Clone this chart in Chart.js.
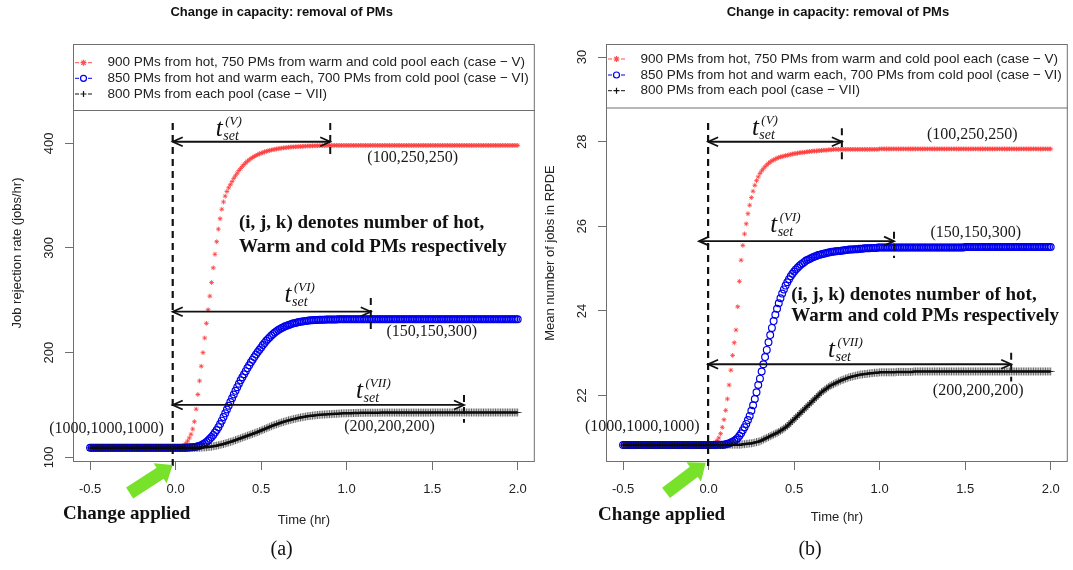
<!DOCTYPE html>
<html>
<head>
<meta charset="utf-8">
<script src="https://cdn.jsdelivr.net/npm/chart.js@4.4.1/dist/chart.umd.min.js"></script>
<style>
  html, body { margin: 0; padding: 0; background: #fff; }
  #wrap { position: relative; width: 1073px; height: 570px; overflow: hidden; }
  canvas { position: absolute; top: 0; }
  #chartA { left: 0; }
  #chartB { left: 540px; }
</style>
</head>
<body>
<div id="wrap">
  <canvas id="chartA" width="540" height="570"></canvas>
  <canvas id="chartB" width="533" height="570"></canvas>
</div>
<script>
// time grid (hr)
const times = [
  -0.5,-0.49,-0.48,-0.47,-0.46,-0.45,-0.44,-0.43,-0.42,-0.41,
  -0.4,-0.39,-0.38,-0.37,-0.36,-0.35,-0.34,-0.33,-0.32,-0.31,
  -0.3,-0.29,-0.28,-0.27,-0.26,-0.25,-0.24,-0.23,-0.22,-0.21,
  -0.2,-0.19,-0.18,-0.17,-0.16,-0.15,-0.14,-0.13,-0.12,-0.11,
  -0.1,-0.09,-0.08,-0.07,-0.06,-0.05,-0.04,-0.03,-0.02,-0.01,
  0,0.01,0.02,0.03,0.04,0.05,0.06,0.07,0.08,0.09,
  0.1,0.11,0.12,0.13,0.14,0.15,0.16,0.17,0.18,0.19,
  0.2,0.21,0.22,0.23,0.24,0.25,0.26,0.27,0.28,0.29,
  0.3,0.31,0.32,0.33,0.34,0.35,0.36,0.37,0.38,0.39,
  0.4,0.41,0.42,0.43,0.44,0.45,0.46,0.47,0.48,0.49,
  0.5,0.51,0.52,0.53,0.54,0.55,0.56,0.57,0.58,0.59,
  0.6,0.61,0.62,0.63,0.64,0.65,0.66,0.67,0.68,0.69,
  0.7,0.71,0.72,0.73,0.74,0.75,0.76,0.77,0.78,0.79,
  0.8,0.81,0.82,0.83,0.84,0.85,0.86,0.87,0.88,0.89,
  0.9,0.91,0.92,0.93,0.94,0.95,0.96,0.97,0.98,0.99,
  1,1.01,1.02,1.03,1.04,1.05,1.06,1.07,1.08,1.09,
  1.1,1.11,1.12,1.13,1.14,1.15,1.16,1.17,1.18,1.19,
  1.2,1.21,1.22,1.23,1.24,1.25,1.26,1.27,1.28,1.29,
  1.3,1.31,1.32,1.33,1.34,1.35,1.36,1.37,1.38,1.39,
  1.4,1.41,1.42,1.43,1.44,1.45,1.46,1.47,1.48,1.49,
  1.5,1.51,1.52,1.53,1.54,1.55,1.56,1.57,1.58,1.59,
  1.6,1.61,1.62,1.63,1.64,1.65,1.66,1.67,1.68,1.69,
  1.7,1.71,1.72,1.73,1.74,1.75,1.76,1.77,1.78,1.79,
  1.8,1.81,1.82,1.83,1.84,1.85,1.86,1.87,1.88,1.89,
  1.9,1.91,1.92,1.93,1.94,1.95,1.96,1.97,1.98,1.99,
  2
];

const caseLabels = [
  '900 PMs from hot, 750 PMs from warm and cold pool each (case \u2212 V)',
  '850 PMs from hot and warm each, 700 PMs from cold pool (case \u2212 VI)',
  '800 PMs from each pool (case \u2212 VII)'
];

// (a) job rejection rate (jobs/hr)
const rejectV = [
  109,109,109,109,109,109,109,109,109,109,
  109,109,109,109,109,109,109,109,109,109,
  109,109,109,109,109,109,109,109,109,109,
  109,109,109,109,109,109,109,109,109,109,
  109,109,109,109,109,109,109,109,109,109,
  109,109.2,109.5,110,110.7,111.7,113.2,115.5,118.5,122,
  127,134,146,160,173,187,200,214,228,241,
  254,267,281,294,306,318,328,337,344,349.5,
  354,357.5,360.5,363.5,366.5,369,371.5,374,376,378,
  379.8,381.4,382.9,384.2,385.4,386.5,387.5,388.4,389.2,390,
  390.6,391.2,391.8,392.3,392.8,393.2,393.6,394,394.3,394.6,
  394.9,395.2,395.4,395.6,395.8,396,396.2,396.4,396.5,396.6,
  396.7,396.8,396.9,397,397.1,397.2,397.3,397.4,397.5,397.5,
  397.6,397.6,397.7,397.7,397.8,397.8,397.9,397.9,398,398,
  398,398,398,398,398,398,398,398,398,398,
  398,398,398,398,398,398,398,398,398,398,
  398,398,398,398,398,398,398,398,398,398,
  398,398,398,398,398,398,398,398,398,398,
  398,398,398,398,398,398,398,398,398,398,
  398,398,398,398,398,398,398,398,398,398,
  398,398,398,398,398,398,398,398,398,398,
  398,398,398,398,398,398,398,398,398,398,
  398,398,398,398,398,398,398,398,398,398,
  398,398,398,398,398,398,398,398,398,398,
  398,398,398,398,398,398,398,398,398,398,
  398
];
const rejectVI = [
  109,109,109,109,109,109,109,109,109,109,
  109,109,109,109,109,109,109,109,109,109,
  109,109,109,109,109,109,109,109,109,109,
  109,109,109,109,109,109,109,109,109,109,
  109,109,109,109,109,109,109,109,109,109,
  109,109,109,109.1,109.1,109.2,109.2,109.3,109.4,109.5,
  109.6,109.8,110.1,110.5,111,111.6,112.4,113.4,114.6,116,
  117.6,119.4,121.4,123.6,126,128.8,131.8,135,138.4,142,
  145.6,149.2,152.8,156.4,160,163.5,167,170.3,173.5,176.5,
  179.4,182.3,185.2,188,190.7,193.3,195.8,198.2,200.5,202.8,
  205,207.2,209.3,211.3,213.1,214.8,216.4,217.9,219.3,220.5,
  221.6,222.6,223.5,224.3,225.1,225.8,226.4,227,227.5,228,
  228.4,228.8,229.2,229.5,229.8,230.1,230.3,230.5,230.7,230.9,
  231,231.1,231.2,231.3,231.4,231.4,231.5,231.5,231.6,231.6,
  231.7,231.7,231.7,231.7,231.7,231.8,231.8,231.8,231.8,231.8,
  231.8,231.8,231.8,231.8,231.8,231.8,231.8,231.8,231.8,231.8,
  231.8,231.8,231.8,231.8,231.8,231.8,231.8,231.8,231.8,231.8,
  231.8,231.8,231.8,231.8,231.8,231.8,231.8,231.8,231.8,231.8,
  231.8,231.8,231.8,231.8,231.8,231.8,231.8,231.8,231.8,231.8,
  231.8,231.8,231.8,231.8,231.8,231.8,231.8,231.8,231.8,231.8,
  231.8,231.8,231.8,231.8,231.8,231.8,231.8,231.8,231.8,231.8,
  231.8,231.8,231.8,231.8,231.8,231.8,231.8,231.8,231.8,231.8,
  231.8,231.8,231.8,231.8,231.8,231.8,231.8,231.8,231.8,231.8,
  231.8,231.8,231.8,231.8,231.8,231.8,231.8,231.8,231.8,231.8,
  231.8,231.8,231.8,231.8,231.8,231.8,231.8,231.8,231.8,231.8,
  231.8
];
const rejectVII = [
  109,109,109,109,109,109,109,109,109,109,
  109,109,109,109,109,109,109,109,109,109,
  109,109,109,109,109,109,109,109,109,109,
  109,109,109,109,109,109,109,109,109,109,
  109,109,109,109,109,109,109,109,109,109,
  109,109,109,109,109,109,109,109,109,109,
  109,109,109.1,109.1,109.2,109.3,109.4,109.5,109.6,109.8,
  110,110.2,110.5,110.8,111.1,111.5,111.9,112.3,112.7,113.2,
  113.7,114.2,114.7,115.2,115.8,116.4,117,117.6,118.2,118.8,
  119.4,120,120.6,121.2,121.8,122.4,123,123.6,124.2,124.9,
  125.6,126.3,127,127.7,128.4,129.1,129.8,130.4,131,131.6,
  132.2,132.8,133.3,133.8,134.3,134.8,135.3,135.7,136.1,136.5,
  136.9,137.3,137.7,138,138.3,138.6,138.9,139.2,139.4,139.6,
  139.8,140,140.2,140.4,140.6,140.7,140.8,140.9,141,141.1,
  141.2,141.3,141.4,141.5,141.6,141.7,141.8,141.9,142,142,
  142.1,142.1,142.2,142.2,142.3,142.3,142.4,142.4,142.5,142.5,
  142.5,142.6,142.6,142.6,142.6,142.6,142.6,142.6,142.6,142.6,
  142.7,142.7,142.7,142.7,142.7,142.7,142.7,142.7,142.7,142.7,
  142.7,142.7,142.7,142.7,142.7,142.7,142.7,142.7,142.7,142.7,
  142.7,142.7,142.7,142.7,142.7,142.7,142.7,142.7,142.7,142.7,
  142.8,142.8,142.8,142.8,142.8,142.8,142.8,142.8,142.8,142.8,
  142.8,142.8,142.8,142.8,142.8,142.8,142.8,142.8,142.8,142.8,
  142.8,142.8,142.8,142.8,142.8,142.8,142.8,142.8,142.8,142.8,
  142.8,142.8,142.8,142.8,142.8,142.8,142.8,142.8,142.8,142.8,
  142.8,142.8,142.8,142.8,142.8,142.8,142.8,142.8,142.8,142.8,
  142.8
];

// (b) mean number of jobs in RPDE
const rpdeV = [
  20.83,20.83,20.83,20.83,20.83,20.83,20.83,20.83,20.83,20.83,
  20.83,20.83,20.83,20.83,20.83,20.83,20.83,20.83,20.83,20.83,
  20.83,20.83,20.83,20.83,20.83,20.83,20.83,20.83,20.83,20.83,
  20.83,20.83,20.83,20.83,20.83,20.83,20.83,20.83,20.83,20.83,
  20.83,20.83,20.83,20.83,20.83,20.83,20.83,20.83,20.83,20.83,
  20.83,20.84,20.85,20.87,20.9,20.94,21,21.1,21.25,21.43,
  21.65,21.92,22.25,22.6,22.95,23.25,23.55,24.1,24.7,25.2,
  25.55,25.82,26.06,26.3,26.5,26.68,26.83,26.97,27.08,27.17,
  27.25,27.31,27.36,27.41,27.45,27.49,27.52,27.55,27.57,27.59,
  27.61,27.63,27.64,27.65,27.66,27.67,27.68,27.69,27.7,27.71,
  27.72,27.72,27.73,27.74,27.74,27.75,27.75,27.76,27.76,27.77,
  27.77,27.78,27.78,27.78,27.79,27.79,27.79,27.8,27.8,27.8,
  27.81,27.81,27.81,27.82,27.82,27.82,27.82,27.82,27.82,27.82,
  27.82,27.82,27.82,27.82,27.82,27.82,27.82,27.82,27.82,27.82,
  27.82,27.82,27.82,27.82,27.82,27.82,27.82,27.82,27.82,27.82,
  27.83,27.83,27.83,27.83,27.83,27.83,27.83,27.83,27.83,27.83,
  27.83,27.83,27.83,27.83,27.83,27.83,27.83,27.83,27.83,27.83,
  27.83,27.83,27.83,27.83,27.83,27.83,27.83,27.83,27.83,27.83,
  27.83,27.83,27.83,27.83,27.83,27.83,27.83,27.83,27.83,27.83,
  27.83,27.83,27.83,27.83,27.83,27.83,27.83,27.83,27.83,27.83,
  27.83,27.83,27.83,27.83,27.83,27.83,27.83,27.83,27.83,27.83,
  27.83,27.83,27.83,27.83,27.83,27.83,27.83,27.83,27.83,27.83,
  27.83,27.83,27.83,27.83,27.83,27.83,27.83,27.83,27.83,27.83,
  27.83,27.83,27.83,27.83,27.83,27.83,27.83,27.83,27.83,27.83,
  27.83,27.83,27.83,27.83,27.83,27.83,27.83,27.83,27.83,27.83,
  27.83
];
const rpdeVI = [
  20.83,20.83,20.83,20.83,20.83,20.83,20.83,20.83,20.83,20.83,
  20.83,20.83,20.83,20.83,20.83,20.83,20.83,20.83,20.83,20.83,
  20.83,20.83,20.83,20.83,20.83,20.83,20.83,20.83,20.83,20.83,
  20.83,20.83,20.83,20.83,20.83,20.83,20.83,20.83,20.83,20.83,
  20.83,20.83,20.83,20.83,20.83,20.83,20.83,20.83,20.83,20.83,
  20.83,20.83,20.83,20.83,20.83,20.84,20.84,20.84,20.84,20.84,
  20.85,20.86,20.87,20.89,20.91,20.93,20.96,21,21.05,21.11,
  21.18,21.25,21.33,21.42,21.52,21.64,21.77,21.92,22.08,22.25,
  22.4,22.57,22.74,22.91,23.08,23.26,23.43,23.6,23.76,23.91,
  24.05,24.18,24.3,24.41,24.51,24.6,24.68,24.75,24.82,24.88,
  24.93,24.98,25.02,25.06,25.1,25.13,25.16,25.19,25.21,25.23,
  25.25,25.27,25.29,25.3,25.32,25.33,25.34,25.35,25.36,25.37,
  25.38,25.39,25.4,25.4,25.41,25.41,25.42,25.42,25.43,25.43,
  25.44,25.44,25.45,25.45,25.45,25.46,25.46,25.46,25.47,25.47,
  25.47,25.48,25.48,25.48,25.48,25.49,25.49,25.49,25.49,25.5,
  25.5,25.5,25.5,25.5,25.5,25.5,25.5,25.5,25.5,25.5,
  25.5,25.5,25.5,25.5,25.5,25.5,25.5,25.5,25.5,25.5,
  25.5,25.5,25.5,25.5,25.5,25.5,25.5,25.5,25.5,25.5,
  25.5,25.5,25.5,25.5,25.5,25.5,25.5,25.5,25.5,25.5,
  25.5,25.5,25.5,25.5,25.5,25.5,25.5,25.5,25.5,25.5,
  25.51,25.51,25.51,25.51,25.51,25.51,25.51,25.51,25.51,25.51,
  25.51,25.51,25.51,25.51,25.51,25.51,25.51,25.51,25.51,25.51,
  25.51,25.51,25.51,25.51,25.51,25.51,25.51,25.51,25.51,25.51,
  25.51,25.51,25.51,25.51,25.51,25.51,25.51,25.51,25.51,25.51,
  25.51,25.51,25.51,25.51,25.51,25.51,25.51,25.51,25.51,25.51,
  25.51
];
const rpdeVII = [
  20.83,20.83,20.83,20.83,20.83,20.83,20.83,20.83,20.83,20.83,
  20.83,20.83,20.83,20.83,20.83,20.83,20.83,20.83,20.83,20.83,
  20.83,20.83,20.83,20.83,20.83,20.83,20.83,20.83,20.83,20.83,
  20.83,20.83,20.83,20.83,20.83,20.83,20.83,20.83,20.83,20.83,
  20.83,20.83,20.83,20.83,20.83,20.83,20.83,20.83,20.83,20.83,
  20.83,20.83,20.83,20.83,20.83,20.83,20.83,20.83,20.83,20.83,
  20.84,20.84,20.84,20.84,20.84,20.84,20.84,20.84,20.84,20.84,
  20.85,20.85,20.86,20.86,20.87,20.87,20.88,20.89,20.9,20.91,
  20.92,20.94,20.96,20.98,21,21.02,21.04,21.06,21.08,21.1,
  21.12,21.14,21.17,21.19,21.22,21.25,21.28,21.32,21.36,21.4,
  21.44,21.48,21.52,21.56,21.6,21.64,21.68,21.72,21.76,21.8,
  21.84,21.88,21.92,21.96,22,22.04,22.08,22.11,22.14,22.17,
  22.2,22.23,22.25,22.27,22.29,22.31,22.33,22.35,22.37,22.38,
  22.4,22.41,22.43,22.44,22.45,22.46,22.47,22.48,22.49,22.5,
  22.5,22.51,22.51,22.52,22.52,22.53,22.53,22.54,22.54,22.54,
  22.55,22.55,22.55,22.55,22.55,22.55,22.55,22.55,22.55,22.55,
  22.56,22.56,22.56,22.56,22.56,22.56,22.56,22.56,22.56,22.56,
  22.57,22.57,22.57,22.57,22.57,22.57,22.57,22.57,22.57,22.57,
  22.57,22.57,22.57,22.57,22.57,22.57,22.57,22.57,22.57,22.57,
  22.57,22.57,22.57,22.57,22.57,22.57,22.57,22.57,22.57,22.57,
  22.57,22.57,22.57,22.57,22.57,22.57,22.57,22.57,22.57,22.57,
  22.57,22.57,22.57,22.57,22.57,22.57,22.57,22.57,22.57,22.57,
  22.57,22.57,22.57,22.57,22.57,22.57,22.57,22.57,22.57,22.57,
  22.57,22.57,22.57,22.57,22.57,22.57,22.57,22.57,22.57,22.57,
  22.57,22.57,22.57,22.57,22.57,22.57,22.57,22.57,22.57,22.57,
  22.57
];

const xTicks = [-0.5, 0, 0.5, 1, 1.5, 2];
const rejectTicks = [100, 200, 300, 400];
const rpdeTicks = [22, 24, 26, 28, 30];

const SANS = '"Liberation Sans", Arial, Helvetica, sans-serif';
const SERIF = '"Liberation Serif", "Times New Roman", serif';
Chart.defaults.font.family = SANS;

// overlay: frame, legend box, rotated y labels and the hand-drawn annotations
function makeDecor(spec) {
  return {
    id: 'decor',
    afterDraw(chart) {
      const { ctx, chartArea: ca } = chart;
      const xs = chart.scales.x, ys = chart.scales.y;
      const px = v => xs.getPixelForValue(v);
      const py = v => ys.getPixelForValue(v);
      const seg = (x1, y1, x2, y2) => {
        ctx.beginPath(); ctx.moveTo(x1, y1); ctx.lineTo(x2, y2); ctx.stroke();
      };
      ctx.save();

      // legend box
      const lh = spec.legendH;
      ctx.fillStyle = '#fff';
      ctx.fillRect(ca.left, ca.top, ca.right - ca.left, lh);
      ctx.strokeStyle = '#6f6f6f';
      ctx.lineWidth = 1;
      seg(ca.left, ca.top + lh + 0.5, ca.right, ca.top + lh + 0.5);
      ctx.strokeRect(ca.left + 0.5, ca.top + 0.5, ca.right - ca.left - 1, ca.bottom - ca.top - 1);

      chart.data.datasets.forEach((ds, i) => {
        const ly = ca.top + spec.legendRows[i];
        ctx.strokeStyle = ds.legendColor;
        ctx.lineWidth = 1;
        seg(ca.left + 2, ly, ca.left + 6, ly);
        seg(ca.left + 15, ly, ca.left + 19, ly);
        ctx.fillStyle = 'rgba(0,0,0,0)';
        ctx.lineWidth = 1.2;
        Chart.helpers.drawPoint(ctx, { pointStyle: ds.pointStyle, radius: 3, rotation: 0, borderWidth: 1.2 }, ca.left + 10.5, ly);
        ctx.fillStyle = '#222';
        ctx.font = '13.5px ' + SANS;
        ctx.textAlign = 'left';
        ctx.textBaseline = 'middle';
        ctx.fillText(ds.label, ca.left + 34.5, ly);
      });

      // y tick labels, rotated as in R
      ctx.fillStyle = '#222';
      ctx.font = '13px ' + SANS;
      ctx.textAlign = 'center';
      ctx.textBaseline = 'middle';
      ys.ticks.forEach(t => {
        ctx.save();
        ctx.translate(ca.left - 23.5, py(t.value));
        ctx.rotate(-Math.PI / 2);
        ctx.fillText(String(t.value), 0, 0);
        ctx.restore();
      });

      // title
      ctx.fillStyle = '#111';
      ctx.font = 'bold 13px ' + SANS;
      ctx.fillText(spec.title[0], px(spec.title[1]), py(spec.title[2]));

      // change line
      ctx.strokeStyle = '#111';
      ctx.lineWidth = 2.2;
      ctx.setLineDash([7, 5]);
      const vl = spec.vline;
      seg(px(vl[0]), py(vl[1]), px(vl[0]), py(vl[2]));

      // settling-time arrows
      spec.arrows.forEach(a => {
        const x0 = px(a.x0), x1 = px(a.x1), yy = py(a.y);
        ctx.setLineDash([7, 5]);
        ctx.lineWidth = 2;
        seg(x1, py(a.tick[0]), x1, py(a.tick[1]));
        ctx.setLineDash([]);
        ctx.lineWidth = 1.8;
        seg(x0, yy, x1, yy);
        ctx.beginPath();
        ctx.moveTo(x0 + 10, yy - 4.5); ctx.lineTo(x0, yy); ctx.lineTo(x0 + 10, yy + 4.5);
        ctx.moveTo(x1 - 10, yy - 4.5); ctx.lineTo(x1, yy); ctx.lineTo(x1 - 10, yy + 4.5);
        ctx.stroke();
        // t_set^(..)
        const lx = px(a.lx), ly = py(a.ly);
        ctx.fillStyle = '#111';
        ctx.textAlign = 'left';
        ctx.textBaseline = 'alphabetic';
        ctx.font = 'italic 25px ' + SERIF;
        ctx.fillText('t', lx, ly);
        const w = ctx.measureText('t').width;
        ctx.font = 'italic 14px ' + SERIF;
        ctx.fillText('set', lx + w + 0.5, ly + 4);
        ctx.font = 'italic 13px ' + SERIF;
        ctx.fillText('(' + a.sup + ')', lx + w + 2.5, ly - 11);
      });

      // (i,j,k) labels
      ctx.fillStyle = '#1a1a1a';
      ctx.font = '16px ' + SERIF;
      ctx.textAlign = 'center';
      ctx.textBaseline = 'middle';
      spec.labels.forEach(l => ctx.fillText(l[0], px(l[1]), py(l[2])));

      // note
      ctx.fillStyle = '#111';
      ctx.font = 'bold 19px ' + SERIF;
      ctx.textAlign = 'left';
      ctx.textBaseline = 'alphabetic';
      spec.note.lines.forEach((s, i) => ctx.fillText(s, px(spec.note.x), py(spec.note.y[i])));

      // green arrow + "Change applied"
      const tip = { x: px(spec.green.tip[0]), y: py(spec.green.tip[1]) };
      const tail = { x: px(spec.green.tail[0]), y: py(spec.green.tail[1]) };
      const dx = tip.x - tail.x, dy = tip.y - tail.y, L = Math.hypot(dx, dy);
      const ux = dx / L, uy = dy / L, nx = -uy, ny = ux;
      const headL = 15, headW = 12, shaftW = 6.5;
      const bx = tip.x - ux * headL, by = tip.y - uy * headL;
      ctx.fillStyle = '#78e22a';
      ctx.beginPath();
      ctx.moveTo(tail.x + nx * shaftW, tail.y + ny * shaftW);
      ctx.lineTo(bx + nx * shaftW, by + ny * shaftW);
      ctx.lineTo(bx + nx * headW, by + ny * headW);
      ctx.lineTo(tip.x, tip.y);
      ctx.lineTo(bx - nx * headW, by - ny * headW);
      ctx.lineTo(bx - nx * shaftW, by - ny * shaftW);
      ctx.lineTo(tail.x - nx * shaftW, tail.y - ny * shaftW);
      ctx.closePath();
      ctx.fill();

      ctx.fillStyle = '#111';
      ctx.font = 'bold 19px ' + SERIF;
      ctx.textBaseline = 'middle';
      ctx.fillText('Change applied', px(spec.applied[0]), py(spec.applied[1]));

      // sub-figure caption
      ctx.font = '20px ' + SERIF;
      ctx.textAlign = 'center';
      ctx.fillText(spec.caption[0], px(spec.caption[1]), py(spec.caption[2]));

      ctx.restore();
    }
  };
}

function buildChart(id, series, spec) {
  return new Chart(document.getElementById(id), {
    type: 'line',
    data: {
      labels: times,
      datasets: [
        { label: caseLabels[0], data: series[0], showLine: false, order: 3,
          pointStyle: 'star', pointRadius: 2.4, pointBorderWidth: 1,
          pointBorderColor: 'rgba(255,60,60,0.8)', pointBackgroundColor: 'rgba(0,0,0,0)',
          borderColor: 'rgba(255,60,60,0.8)', legendColor: 'rgba(255,60,60,0.9)' },
        { label: caseLabels[1], data: series[1], showLine: false, order: 2,
          pointStyle: 'circle', pointRadius: 3.4, pointBorderWidth: 1.2,
          pointBorderColor: '#0000ee', pointBackgroundColor: 'rgba(0,0,0,0)',
          borderColor: '#0000ee', legendColor: '#0000ee' },
        { label: caseLabels[2], data: series[2], showLine: true, order: 1,
          borderColor: '#000', borderWidth: 2.5,
          pointStyle: 'cross', pointRadius: 4, pointBorderWidth: 1,
          pointBorderColor: 'rgba(15,15,15,0.65)', pointBackgroundColor: 'rgba(0,0,0,0)',
          legendColor: '#111' }
      ]
    },
    options: {
      responsive: false,
      animation: false,
      devicePixelRatio: 1,
      events: [],
      layout: { padding: { top: 44, left: 0, right: spec.padRight, bottom: 0 } },
      plugins: { legend: { display: false }, tooltip: { enabled: false }, title: { display: false } },
      scales: {
        x: {
          type: 'linear', min: -0.6, max: 2.1,
          afterBuildTicks: s => { s.ticks = xTicks.map(v => ({ value: v })); },
          afterFit: s => { s.height = 108; },
          ticks: { callback: v => Number(v).toFixed(1), color: '#222', font: { size: 13 },
                   padding: 11.5, maxRotation: 0, autoSkip: false },
          grid: { drawOnChartArea: false, drawTicks: true, tickLength: 8, color: '#6f6f6f' },
          border: { display: false },
          title: { display: true, text: 'Time (hr)', color: '#222', font: { size: 13 },
                   padding: { top: 0, bottom: spec.xTitlePad } }
        },
        y: {
          type: 'linear', min: spec.yMin, max: spec.yMax,
          afterBuildTicks: s => { s.ticks = spec.yTicks.map(v => ({ value: v })); },
          afterFit: s => { s.width = spec.yWidth; },
          ticks: { display: false },
          grid: { drawOnChartArea: false, drawTicks: true, tickLength: 8, color: '#6f6f6f' },
          border: { display: false },
          title: { display: true, text: spec.yTitle, color: '#222', font: { size: 13 },
                   padding: { top: spec.yTitlePad, bottom: 0 } }
        }
      }
    },
    plugins: [makeDecor(spec)]
  });
}

const noteLines = ['(i, j, k) denotes number of hot,', 'Warm and cold PMs respectively'];

buildChart('chartA', [rejectV, rejectVI, rejectVII], {
  yMin: 95.5, yMax: 494.9, yTicks: rejectTicks, yWidth: 73, padRight: 2,
  yTitle: 'Job rejection rate (jobs/hr)', yTitlePad: 9.4, xTitlePad: 41.7,
  legendH: 66, legendRows: [18.7, 34.3, 50],
  title: ['Change in capacity: removal of PMs', 0.62, 525.4],
  vline: [-0.017, 419.3, 87.9],
  arrows: [
    { x0: -0.017, x1: 0.904, y: 401.5, tick: [419.3, 386], lx: 0.235, ly: 407.0, sup: 'V' },
    { x0: -0.017, x1: 1.141, y: 239.1, tick: [252.2, 221.6], lx: 0.637, ly: 248.7, sup: 'VI' },
    { x0: -0.017, x1: 1.686, y: 150.0, tick: [159.5, 133.0], lx: 1.055, ly: 156.4, sup: 'VII' }
  ],
  labels: [
    ['(100,250,250)', 1.386, 385.7],
    ['(150,150,300)', 1.498, 220.0],
    ['(200,200,200)', 1.251, 129.2],
    ['(1000,1000,1000)', -0.404, 127.7]
  ],
  note: { lines: noteLines, x: 0.37, y: [318.8, 296.4] },
  green: { tip: [-0.017, 92.6], tail: [-0.269, 65.9] },
  applied: [-0.658, 45.8],
  caption: ['(a)', 0.62, 11.4]
});

buildChart('chartB', [rpdeV, rpdeVI, rpdeVII], {
  yMin: 20.43, yMax: 30.31, yTicks: rpdeTicks, yWidth: 66, padRight: 1,
  yTitle: 'Mean number of jobs in RPDE', yTitlePad: 2.7, xTitlePad: 44.7,
  legendH: 63.5, legendRows: [15, 31, 46.7],
  title: ['Change in capacity: removal of PMs', 0.756, 31.06],
  vline: [-0.003, 28.44, 20.24],
  arrows: [
    { x0: -0.003, x1: 0.779, y: 28.0, tick: [28.32, 27.50], lx: 0.253, ly: 28.16, sup: 'V' },
    { x0: -0.056, x1: 1.084, y: 25.65, tick: [25.87, 25.25], lx: 0.36, ly: 25.87, sup: 'VI' },
    { x0: -0.003, x1: 1.769, y: 22.74, tick: [23.01, 22.33], lx: 0.698, ly: 22.92, sup: 'VII' }
  ],
  labels: [
    ['(100,250,250)', 1.542, 28.16],
    ['(150,150,300)', 1.562, 25.84],
    ['(200,200,200)', 1.576, 22.12],
    ['(1000,1000,1000)', -0.388, 21.27]
  ],
  note: { lines: noteLines, x: 0.483, y: [24.26, 23.77] },
  green: { tip: [-0.017, 20.41], tail: [-0.249, 19.70] },
  applied: [-0.647, 19.18],
  caption: ['(b)', 0.593, 18.355]
});
</script>
</body>
</html>
